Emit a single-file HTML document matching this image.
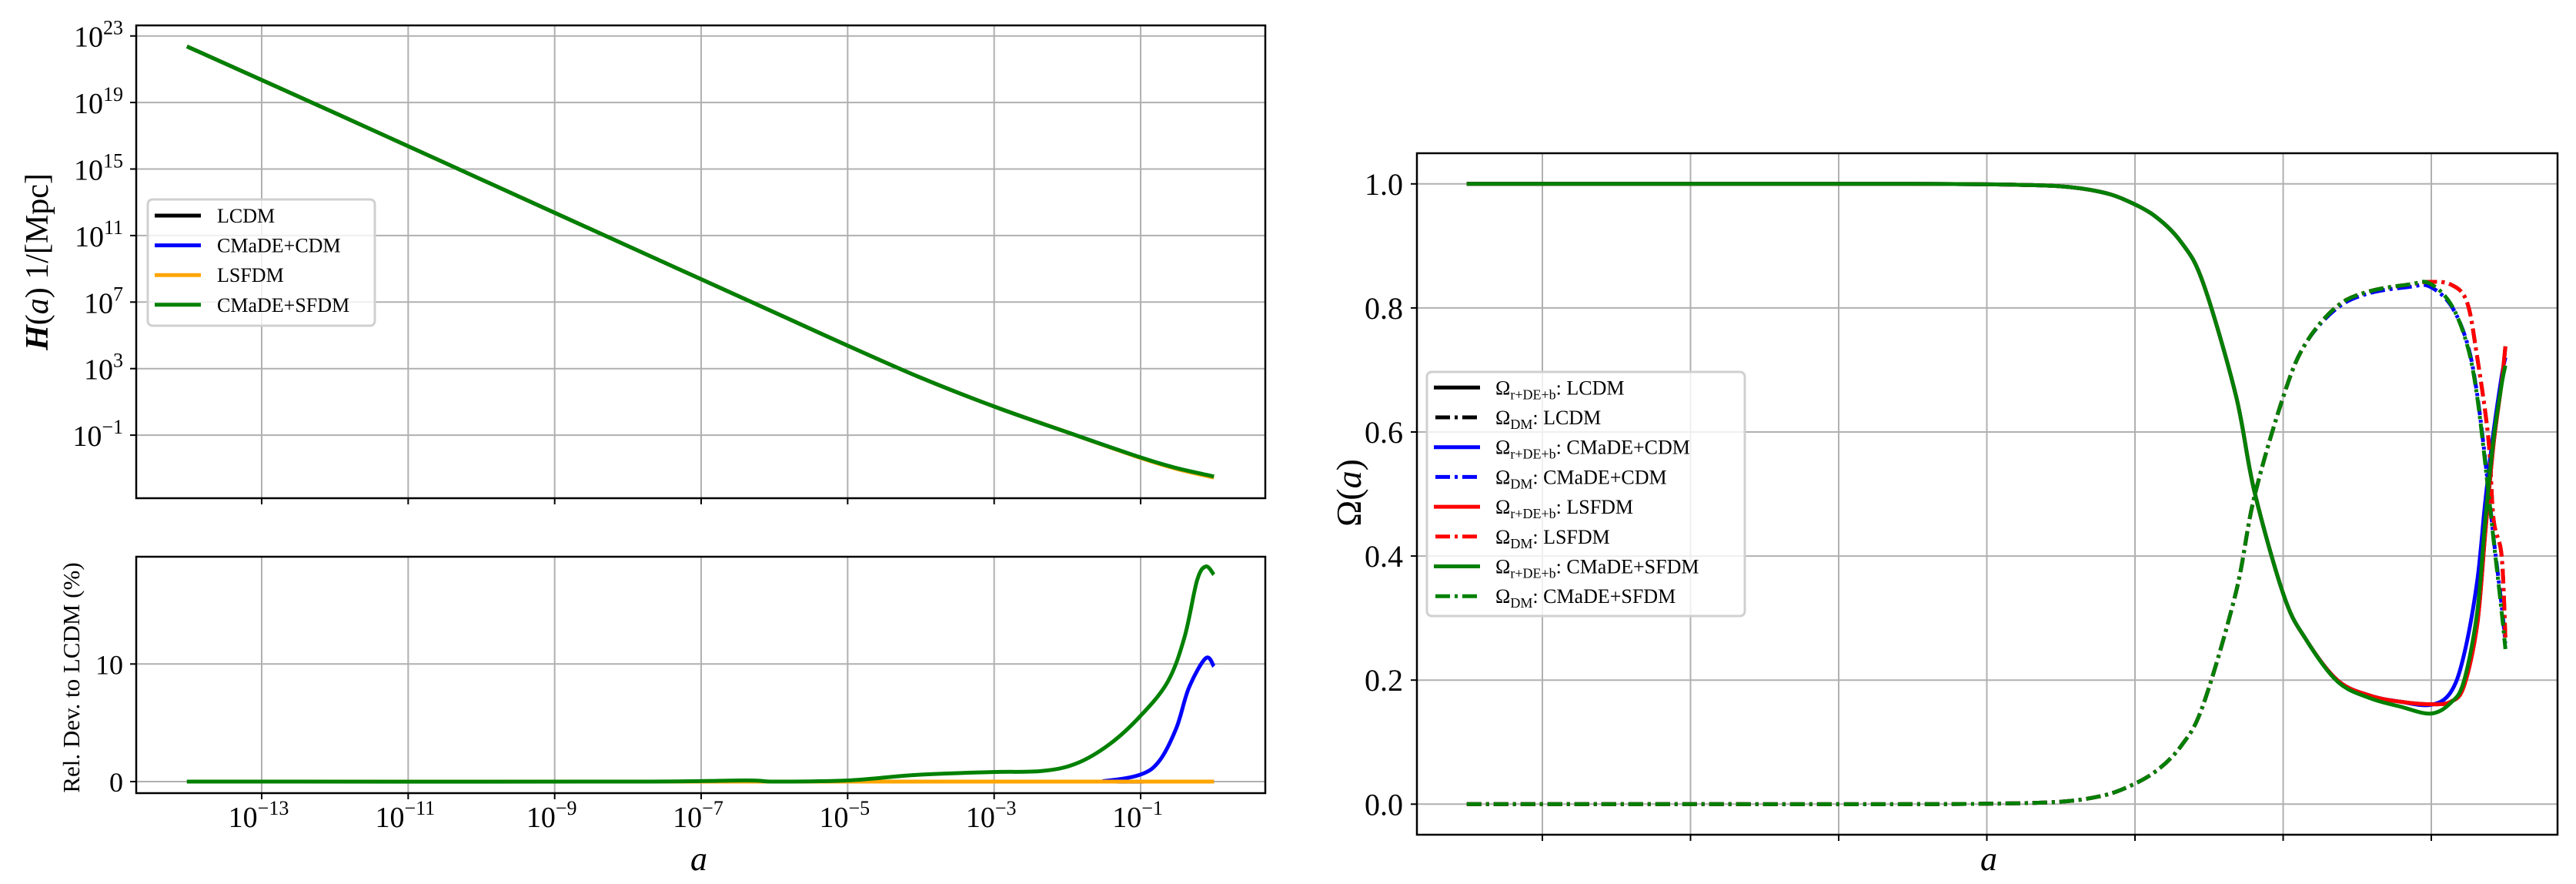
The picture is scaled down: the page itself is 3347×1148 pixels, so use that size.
<!DOCTYPE html>
<html><head><meta charset="utf-8">
<style>
html,body{margin:0;padding:0;background:#fff;}
svg{display:block;font-family:"Liberation Serif","DejaVu Serif",serif;}
</style></head>
<body>
<svg id="fig" width="3347" height="1148" viewBox="0 0 3347 1148" xmlns="http://www.w3.org/2000/svg">
<rect width="3347" height="1148" fill="#fff"/>
<g id="gH"></g>
<g id="gD"></g>
<g id="gO"></g>
</svg>
<script>
// ---------- data: H(a) panel (log10 a, log10 H) ----------
const hLoga = [-14.02, -12, -10, -8, -6, -5, -4, -3, -2, -1, -0.5, 0.0];
const hLCDM = [22.37, 18.37, 14.37, 10.37, 6.38, 4.38, 2.45, 0.72, -0.83, -2.36, -3.02, -3.53];
const hCMCDM = [22.37, 18.37, 14.37, 10.37, 6.38, 4.38, 2.45, 0.72, -0.83, -2.35, -3.0, -3.5];
const hLSFDM = [22.37, 18.37, 14.37, 10.37, 6.38, 4.38, 2.45, 0.72, -0.83, -2.37, -3.04, -3.55];
const hCMSFDM = [22.37, 18.37, 14.37, 10.37, 6.38, 4.38, 2.45, 0.72, -0.83, -2.34, -2.99, -3.48];
const hYTicks = [23, 19, 15, 11, 7, 3, -1];
const xTickExp = [-13, -11, -9, -7, -5, -3, -1];
// ---------- data: relative deviation panel ----------
const dLoga = [-14.02, -8, -6.4, -6, -5, -4.05, -3.03, -2.35, -1.88, -1.42, -1.0, -0.63, -0.4, -0.23, -0.11, 0.0];
const dCMSFDM = [0, 0, 0.1, 0, 0.1, 0.57, 0.81, 0.9, 1.53, 3.2, 5.6, 8.5, 12.3, 17.1, 18.3, 17.6];
const dBLoga = [-14.02, -2, -1.5, -1.0, -0.74, -0.51, -0.34, -0.11, 0.0];
const dCMCDM = [0, 0, 0.05, 0.6, 1.8, 4.6, 8.0, 10.5, 9.8];
const dOLoga = [-14.02, 0.0];
const dLSFDM = [0, 0];
const dYTicks = [0, 10];
// ---------- data: Omega panel ----------
const oLoga = [-14.02, -11, -8, -6.8, -6.0, -5.5, -5.15, -4.73, -4.37, -4.08, -3.64, -3.39, -2.99, -2.70, -2.27, -1.83, -1.41, -1.01, -0.74, -0.56, -0.38, -0.27, -0.16, -0.05, 0.0];
const sCMSFDM = [1.0, 1.0, 1.0, 0.999, 0.996, 0.988, 0.975, 0.948, 0.905, 0.84, 0.66, 0.505, 0.336, 0.267, 0.198, 0.171, 0.157, 0.146, 0.163, 0.198, 0.31, 0.46, 0.588, 0.677, 0.707];
const sLSFDM = [1.0, 1.0, 1.0, 0.999, 0.996, 0.988, 0.975, 0.948, 0.905, 0.84, 0.66, 0.505, 0.336, 0.267, 0.2, 0.175, 0.165, 0.161, 0.165, 0.19, 0.29, 0.44, 0.58, 0.68, 0.738];
const sCMCDM = [1.0, 1.0, 1.0, 0.999, 0.996, 0.988, 0.975, 0.948, 0.905, 0.84, 0.66, 0.505, 0.336, 0.267, 0.2, 0.175, 0.165, 0.16, 0.18, 0.24, 0.36, 0.49, 0.6, 0.69, 0.72];
const sLCDM = [1.0, 1.0, 1.0, 0.999, 0.996, 0.988, 0.975, 0.948, 0.905, 0.84, 0.66, 0.505, 0.336, 0.267, 0.2, 0.175, 0.165, 0.161, 0.165, 0.19, 0.29, 0.44, 0.58, 0.68, 0.738];
const mLoga = [-14.02, -11, -8, -6.8, -6.0, -5.5, -5.15, -4.73, -4.37, -4.08, -3.64, -3.39, -2.99, -2.70, -2.27, -1.83, -1.29, -1.03, -0.74, -0.52, -0.38, -0.23, -0.16, -0.05, 0.0];
const mCMSFDM = [0, 0, 0, 0.001, 0.004, 0.012, 0.025, 0.052, 0.095, 0.16, 0.34, 0.495, 0.66, 0.742, 0.803, 0.827, 0.838, 0.84, 0.807, 0.742, 0.656, 0.504, 0.427, 0.31, 0.25];
const mCMCDM = [0, 0, 0, 0.001, 0.004, 0.012, 0.025, 0.052, 0.095, 0.16, 0.34, 0.495, 0.66, 0.742, 0.8, 0.824, 0.834, 0.835, 0.805, 0.745, 0.66, 0.51, 0.43, 0.32, 0.26];
const mLSFDM = [0, 0, 0, 0.001, 0.004, 0.012, 0.025, 0.052, 0.095, 0.16, 0.34, 0.495, 0.66, 0.742, 0.803, 0.827, 0.838, 0.842, 0.838, 0.81, 0.72, 0.59, 0.46, 0.40, 0.267];
const mLCDM = [0, 0, 0, 0.001, 0.004, 0.012, 0.025, 0.052, 0.095, 0.16, 0.34, 0.495, 0.66, 0.742, 0.803, 0.827, 0.838, 0.842, 0.838, 0.81, 0.72, 0.59, 0.46, 0.40, 0.267];
const oYTicks = [0.0, 0.2, 0.4, 0.6, 0.8, 1.0];

const NS = "http://www.w3.org/2000/svg";
function el(parent, tag, attrs, text) {
  const e = document.createElementNS(NS, tag);
  for (const k in attrs) e.setAttribute(k, attrs[k]);
  if (text !== undefined) e.textContent = text;
  parent.appendChild(e);
  return e;
}
function smoothPath(pts) {
  let d = "M" + pts[0][0].toFixed(1) + "," + pts[0][1].toFixed(1);
  for (let i = 0; i < pts.length - 1; i++) {
    const p0 = pts[Math.max(0, i - 1)], p1 = pts[i], p2 = pts[i + 1], p3 = pts[Math.min(pts.length - 1, i + 2)];
    const c1x = p1[0] + (p2[0] - p0[0]) / 6, c1y = p1[1] + (p2[1] - p0[1]) / 6;
    const c2x = p2[0] - (p3[0] - p1[0]) / 6, c2y = p2[1] - (p3[1] - p1[1]) / 6;
    d += "C" + c1x.toFixed(1) + "," + c1y.toFixed(1) + " " + c2x.toFixed(1) + "," + c2y.toFixed(1) + " " + p2[0].toFixed(1) + "," + p2[1].toFixed(1);
  }
  return d;
}
const GRID = "#b0b0b0";

// ---------- left top: H(a) ----------
const L = {x0: 177, x1: 1644};
const xL = v => 340 + (v + 13) * 95.17;
const gH = document.getElementById("gH");
const yH = v => 46.7 + (23 - v) * 21.6;
const HT = {y0: 33, y1: 647};
xTickExp.forEach(e => {
  const g = el(gH, "line", {x1: xL(e), x2: xL(e), y1: HT.y0, y2: HT.y1, stroke: GRID, "stroke-width": 2});
  
  
  const t = el(gH, "line", {x1: xL(e), x2: xL(e), y1: HT.y1, y2: HT.y1 + 8, stroke: "#000", "stroke-width": 2});
  
  
});
hYTicks.forEach(e => {
  const g = el(gH, "line", {x1: L.x0, x2: L.x1, y1: yH(e), y2: yH(e), stroke: GRID, "stroke-width": 2});
  
  
  el(gH, "line", {x1: L.x0 - 8, x2: L.x0, y1: yH(e), y2: yH(e), stroke: "#000", "stroke-width": 2});
  const t = el(gH, "text", {x: 160, y: yH(e) + 14, "text-anchor": "end", "font-size": 38});
  
  
  el(t, "tspan", {}, "10");
  el(t, "tspan", {"font-size": 26, dy: -16}, (e < 0 ? "\u2212" + (-e) : "" + e));
});
function drawLine(parent, xs, ys, fx, fy, color, w, dash, name) {
  const pts = xs.map((x, i) => [fx(x), fy(ys[i])]);
  const p = el(parent, "path", {d: smoothPath(pts), fill: "none", stroke: color, "stroke-width": w, "stroke-linejoin": "round"});
  if (dash) p.setAttribute("stroke-dasharray", dash);
  
  
  return p;
}
drawLine(gH, hLoga, hLCDM, xL, yH, "#000", 5, null, "line-lcdm");
drawLine(gH, hLoga, hCMCDM, xL, yH, "#0000ff", 5, null, "line-cmade-cdm");
drawLine(gH, hLoga, hLSFDM, xL, yH, "#ffa500", 5, null, "line-lsfdm");
drawLine(gH, hLoga, hCMSFDM, xL, yH, "#008000", 5, null, "line-cmade-sfdm");
el(gH, "rect", {x: L.x0, y: HT.y0, width: L.x1 - L.x0, height: HT.y1 - HT.y0, fill: "none", stroke: "#000", "stroke-width": 2.5});
const yl = el(gH, "text", {transform: "translate(62,340) rotate(-90)", "text-anchor": "middle", "font-size": 42});


el(yl, "tspan", {"font-style": "italic", "font-weight": "bold"}, "H");
el(yl, "tspan", {}, "(");
el(yl, "tspan", {"font-style": "italic"}, "a");
el(yl, "tspan", {}, ") 1/[Mpc]");
const lg = el(gH, "g", {});


el(lg, "rect", {x: 192, y: 259, width: 295, height: 164, rx: 6, fill: "rgba(255,255,255,0.8)", stroke: "#d0d0d0", "stroke-width": 3});
const legL = [["LCDM", "#000"], ["CMaDE+CDM", "#0000ff"], ["LSFDM", "#ffa500"], ["CMaDE+SFDM", "#008000"]];
legL.forEach((it, i) => {
  const y = 280 + i * 38.6;
  const ln = el(lg, "line", {x1: 201, x2: 261, y1: y, y2: y, stroke: it[1], "stroke-width": 5});
  
  
  const t = el(lg, "text", {x: 282, y: y + 9, "font-size": 26}, it[0]);
  
  
});

// ---------- left bottom: deviation ----------
const gD = document.getElementById("gD");
const DT = {y0: 723, y1: 1030};
const yD = v => 1015 - v * 15.27;
xTickExp.forEach(e => {
  el(gD, "line", {x1: xL(e), x2: xL(e), y1: DT.y0, y2: DT.y1, stroke: GRID, "stroke-width": 2});
  el(gD, "line", {x1: xL(e), x2: xL(e), y1: DT.y1, y2: DT.y1 + 8, stroke: "#000", "stroke-width": 2});
  const t = el(gD, "text", {x: xL(e) - 4, y: 1074, "text-anchor": "middle", "font-size": 38});
  
  
  el(t, "tspan", {}, "10");
  el(t, "tspan", {"font-size": 26, dy: -16}, "\u2212" + (-e));
});
dYTicks.forEach(v => {
  el(gD, "line", {x1: L.x0, x2: L.x1, y1: yD(v), y2: yD(v), stroke: GRID, "stroke-width": 2});
  el(gD, "line", {x1: L.x0 - 8, x2: L.x0, y1: yD(v), y2: yD(v), stroke: "#000", "stroke-width": 2});
  const t = el(gD, "text", {x: 160, y: yD(v) + 13, "text-anchor": "end", "font-size": 36}, "" + v);
  
  
});
drawLine(gD, dOLoga, [0, 0], xL, yD, "#000", 5, null, "dev-lcdm");
drawLine(gD, dBLoga, dCMCDM, xL, yD, "#0000ff", 5, null, "dev-cmade-cdm");
drawLine(gD, dOLoga, dLSFDM, xL, yD, "#ffa500", 5, null, "dev-lsfdm");
drawLine(gD, dLoga, dCMSFDM, xL, yD, "#008000", 5, null, "dev-cmade-sfdm");
el(gD, "rect", {x: L.x0, y: DT.y0, width: L.x1 - L.x0, height: DT.y1 - DT.y0, fill: "none", stroke: "#000", "stroke-width": 2.5});
const dyl = el(gD, "text", {transform: "translate(103,880) rotate(-90)", "text-anchor": "middle", "font-size": 31}, "Rel. Dev. to LCDM (%)");


const dxl = el(gD, "text", {x: 908, y: 1130, "text-anchor": "middle", "font-size": 44, "font-style": "italic"}, "a");



// ---------- right: Omega ----------
const gO = document.getElementById("gO");
const R = {x0: 1841, x1: 3323, y0: 199, y1: 1084};
const xR = v => 3159 + (v + 1) * 96.25;
const yR = v => 1044.3 - v * 805.5;
xTickExp.forEach(e => {
  el(gO, "line", {x1: xR(e), x2: xR(e), y1: R.y0, y2: R.y1, stroke: GRID, "stroke-width": 2});
  const t = el(gO, "line", {x1: xR(e), x2: xR(e), y1: R.y1, y2: R.y1 + 8, stroke: "#000", "stroke-width": 2});
  
  
});
oYTicks.forEach(v => {
  el(gO, "line", {x1: R.x0, x2: R.x1, y1: yR(v), y2: yR(v), stroke: GRID, "stroke-width": 2});
  el(gO, "line", {x1: R.x0 - 8, x2: R.x0, y1: yR(v), y2: yR(v), stroke: "#000", "stroke-width": 2});
  const t = el(gO, "text", {x: 1823, y: yR(v) + 14, "text-anchor": "end", "font-size": 40}, v.toFixed(1));
  
  
});
const DD = "19,6,4,6";
drawLine(gO, oLoga, sLCDM, xR, yR, "#000", 5, null, "omega-rdeb-lcdm");
drawLine(gO, mLoga, mLCDM, xR, yR, "#000", 5, DD, "omega-dm-lcdm");
drawLine(gO, oLoga, sCMCDM, xR, yR, "#0000ff", 5, null, "omega-rdeb-cmade-cdm");
drawLine(gO, mLoga, mCMCDM, xR, yR, "#0000ff", 5, DD, "omega-dm-cmade-cdm");
drawLine(gO, oLoga, sLSFDM, xR, yR, "#ff0000", 5, null, "omega-rdeb-lsfdm");
drawLine(gO, mLoga, mLSFDM, xR, yR, "#ff0000", 5, DD, "omega-dm-lsfdm");
drawLine(gO, oLoga, sCMSFDM, xR, yR, "#008000", 5, null, "omega-rdeb-cmade-sfdm");
drawLine(gO, mLoga, mCMSFDM, xR, yR, "#008000", 5, DD, "omega-dm-cmade-sfdm");
el(gO, "rect", {x: R.x0, y: R.y0, width: R.x1 - R.x0, height: R.y1 - R.y0, fill: "none", stroke: "#000", "stroke-width": 2.5});
const oyl = el(gO, "text", {transform: "translate(1768,640) rotate(-90)", "text-anchor": "middle", "font-size": 46});


el(oyl, "tspan", {}, "\u03A9(");
el(oyl, "tspan", {"font-style": "italic"}, "a");
el(oyl, "tspan", {}, ")");
const oxl = el(gO, "text", {x: 2584, y: 1130, "text-anchor": "middle", "font-size": 44, "font-style": "italic"}, "a");


const lg2 = el(gO, "g", {});


el(lg2, "rect", {x: 1854, y: 483, width: 413, height: 317, rx: 6, fill: "rgba(255,255,255,0.8)", stroke: "#d0d0d0", "stroke-width": 3});
const legR = [["r+DE+b", "LCDM", "#000", false], ["DM", "LCDM", "#000", true],
  ["r+DE+b", "CMaDE+CDM", "#0000ff", false], ["DM", "CMaDE+CDM", "#0000ff", true],
  ["r+DE+b", "LSFDM", "#ff0000", false], ["DM", "LSFDM", "#ff0000", true],
  ["r+DE+b", "CMaDE+SFDM", "#008000", false], ["DM", "CMaDE+SFDM", "#008000", true]];
legR.forEach((it, i) => {
  const y = 503.3 + i * 38.7;
  const ln = el(lg2, "line", {x1: it[3] ? 1865 : 1863, x2: it[3] ? 1921 : 1923, y1: y, y2: y, stroke: it[2], "stroke-width": 5});
  if (it[3]) ln.setAttribute("stroke-dasharray", "19,6,4,6");
  
  
  const t = el(lg2, "text", {x: 1943, y: y + 9, "font-size": 26});
  
  
  el(t, "tspan", {}, "\u03A9");
  el(t, "tspan", {"font-size": 18, dy: 6}, it[0]);
  el(t, "tspan", {dy: -6}, ": " + it[1]);
});
</script>
</body></html>
